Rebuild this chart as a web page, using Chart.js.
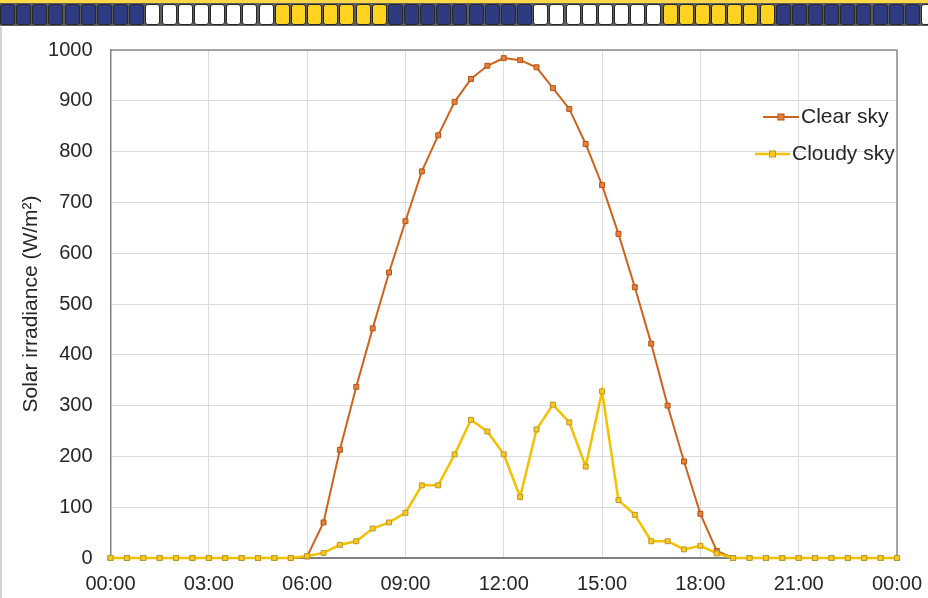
<!DOCTYPE html>
<html lang="en">
<head>
  <meta charset="UTF-8">
  <title>Solar irradiance</title>
  <script src="https://cdn.jsdelivr.net/npm/chart.js"></script>
  <style>
    body { margin: 0; background: #fff; }
    .wrap { position: relative; width: 928px; height: 598px; overflow: hidden; }
    .strip {
      position: absolute; left: 0; top: 0; width: 928px; height: 27px;
      background: linear-gradient(#ffd84a 0 3px, #5e5e5e 3px 26px, #fff 26px);
    }
    .cell {
      position: absolute; top: 4px; width: 13px; height: 19px;
      border: 1px solid #262626; border-radius: 3px;
    }
    .edge { position: absolute; left: 0; top: 27px; width: 2px; height: 571px; background: #d4d4d4; }
    #chart { position: absolute; left: 0; top: 0; }
  </style>
</head>
<body>
  <div class="wrap">
    <canvas id="chart" width="928" height="598"></canvas>
    <div class="strip" id="strip"></div>
    <div class="edge"></div>
  </div>
  <script>
    const timeLabels = [
      '00:00', '00:30', '01:00', '01:30', '02:00', '02:30', '03:00', '03:30',
      '04:00', '04:30', '05:00', '05:30', '06:00', '06:30', '07:00', '07:30',
      '08:00', '08:30', '09:00', '09:30', '10:00', '10:30', '11:00', '11:30',
      '12:00', '12:30', '13:00', '13:30', '14:00', '14:30', '15:00', '15:30',
      '16:00', '16:30', '17:00', '17:30', '18:00', '18:30', '19:00', '19:30',
      '20:00', '20:30', '21:00', '21:30', '22:00', '22:30', '23:00', '23:30', '00:00'
    ];
    const clearSky = [
      0, 0, 0, 0, 0, 0, 0, 0, 0, 0, 0, 0,
      3, 70, 213, 337, 452, 562, 663, 761, 832, 898, 943, 969,
      984, 980, 966, 925, 884, 815, 734, 638, 533, 422, 300, 190,
      87, 14, 0, 0, 0, 0, 0, 0, 0, 0, 0, 0, 0
    ];
    const cloudySky = [
      0, 0, 0, 0, 0, 0, 0, 0, 0, 0, 0, 0,
      4, 10, 26, 33, 58, 70, 89, 143, 143, 204, 272, 249,
      204, 120, 253, 302, 267, 180, 328, 114, 85, 33, 33, 17,
      24, 9, 0, 0, 0, 0, 0, 0, 0, 0, 0, 0, 0
    ];
    const seriesNames = ['Clear sky', 'Cloudy sky'];

    // decorative strip on top: blue / white / yellow blocks
    const stripGroups = [['#2f3b80', 9], ['#ffffff', 8], ['#ffd320', 7], ['#2f3b80', 9], ['#ffffff', 8], ['#ffd320', 7], ['#2f3b80', 9], ['#ffffff', 2]];
    const strip = document.getElementById('strip');
    let n = 0;
    stripGroups.forEach(([col, count]) => {
      for (let i = 0; i < count; i++) {
        const d = document.createElement('div');
        d.className = 'cell';
        d.style.left = (n * 16.16) + 'px';
        d.style.background = col;
        strip.appendChild(d);
        n++;
      }
    });

    const FONT = 'Liberation Sans, Arial, sans-serif';
    const TXT = '#262626';

    const framePlugin = {
      id: 'frame',
      beforeDatasetsDraw(chart) {
        const { ctx, chartArea: a } = chart;
        ctx.save();
        ctx.strokeStyle = '#8c8c8c';
        ctx.lineWidth = 1.5;
        ctx.beginPath();
        ctx.moveTo(a.left, a.top);
        ctx.lineTo(a.right, a.top);
        ctx.lineTo(a.right, a.bottom);
        ctx.stroke();
        ctx.restore();
      }
    };

    const sideLegend = {
      id: 'sideLegend',
      afterDraw(chart) {
        const ctx = chart.ctx;
        const spots = [{ x1: 763, x2: 799, y: 117 }, { x1: 755, x2: 790, y: 154 }];
        ctx.save();
        chart.data.datasets.forEach((ds, i) => {
          const s = spots[i];
          ctx.strokeStyle = ds.borderColor;
          ctx.lineWidth = ds.borderWidth;
          ctx.beginPath();
          ctx.moveTo(s.x1, s.y);
          ctx.lineTo(s.x2, s.y);
          ctx.stroke();
          const mx = (s.x1 + s.x2) / 2;
          ctx.fillStyle = ds.pointBackgroundColor;
          ctx.strokeStyle = ds.pointBorderColor;
          ctx.lineWidth = 1;
          ctx.fillRect(mx - 3, s.y - 3, 6, 6);
          ctx.strokeRect(mx - 3, s.y - 3, 6, 6);
          ctx.fillStyle = TXT;
          ctx.font = '21px ' + FONT;
          ctx.textBaseline = 'middle';
          ctx.fillText(ds.label, s.x2 + 2, s.y);
        });
        ctx.restore();
      }
    };

    new Chart(document.getElementById('chart'), {
      type: 'line',
      data: {
        labels: timeLabels,
        datasets: [{
          label: seriesNames[0],
          data: clearSky,
          borderColor: '#cf631c',
          borderWidth: 2,
          pointStyle: 'rect',
          pointRadius: 3.5,
          pointBackgroundColor: '#e0813f',
          pointBorderColor: '#b9520f',
          pointBorderWidth: 1,
          tension: 0,
          clip: false,
          order: 2
        }, {
          label: seriesNames[1],
          data: cloudySky,
          borderColor: '#f5c000',
          borderWidth: 2.5,
          pointStyle: 'rect',
          pointRadius: 3.5,
          pointBackgroundColor: '#ffc81a',
          pointBorderColor: '#b59a2e',
          pointBorderWidth: 1,
          tension: 0,
          clip: false,
          order: 1
        }]
      },
      options: {
        responsive: false,
        animation: false,
        layout: { padding: { top: 50, right: 31, bottom: 0, left: 0 } },
        plugins: { legend: { display: false }, tooltip: { enabled: false } },
        scales: {
          x: {
            offset: false,
            grid: {
              color: (c) => (c.index % 6 === 0 ? '#dcdcdc' : 'rgba(0,0,0,0)'),
              drawTicks: false
            },
            border: { color: '#808080', width: 2 },
            ticks: {
              autoSkip: false,
              maxRotation: 0,
              padding: 14,
              color: TXT,
              font: { size: 20, family: FONT },
              callback: function (v, i) { return i % 6 === 0 ? this.getLabelForValue(v) : ''; }
            },
            afterFit: (s) => { s.height = 40; s.paddingLeft = 0; s.paddingRight = 0; }
          },
          y: {
            min: 0,
            max: 1000,
            grid: { color: '#dcdcdc', drawTicks: false },
            border: { color: '#808080', width: 1.5 },
            ticks: { stepSize: 100, padding: 18, color: TXT, font: { size: 20, family: FONT }, callback: (v) => String(v) },
            title: {
              display: true,
              text: 'Solar irradiance (W/m²)',
              color: TXT,
              font: { size: 21, family: FONT },
              padding: { top: 19, bottom: 0 }
            },
            afterFit: (s) => { s.width = 110.5; s.paddingTop = 0; s.paddingBottom = 0; }
          }
        }
      },
      plugins: [framePlugin, sideLegend]
    });
  </script>
</body>
</html>
